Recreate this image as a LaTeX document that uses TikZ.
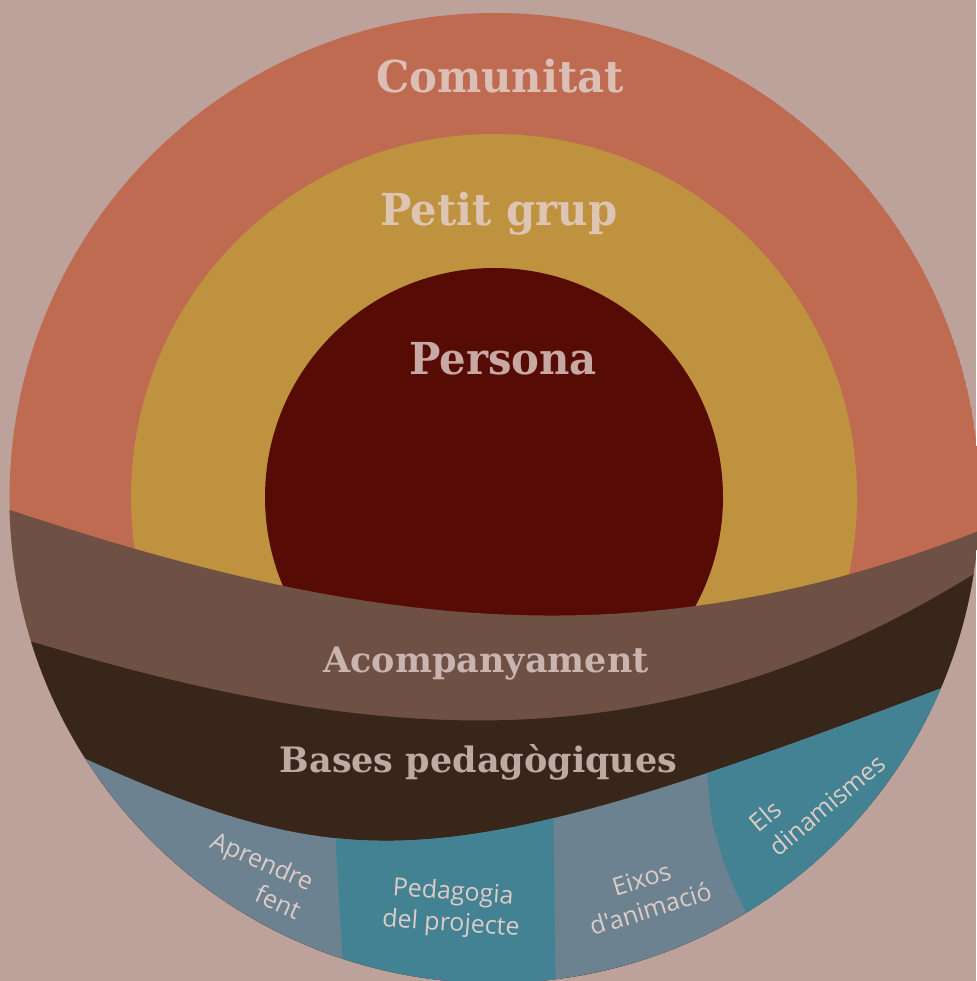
\documentclass[tikz,border=0pt]{standalone}
\usepackage{fontspec}
\setmainfont{DejaVu Serif}
\newfontfamily\titlefont{DejaVu Serif}[FakeStretch=0.95]
\newfontfamily\segfont{Open Sans}[Ligatures=TeXOff]
\definecolor{bgc}{HTML}{BCA29B}
\definecolor{comc}{HTML}{BE6B52}
\definecolor{petc}{HTML}{BF9240}
\definecolor{perc}{HTML}{560C05}
\definecolor{acoc}{HTML}{6F5044}
\definecolor{basc}{HTML}{38261B}
\definecolor{grayc}{HTML}{6C8290}
\definecolor{tealc}{HTML}{428292}
\definecolor{comt}{HTML}{DCBEB4}
\definecolor{pett}{HTML}{DEC4B2}
\definecolor{pert}{HTML}{C8A8A4}
\definecolor{acot}{HTML}{CAB4AF}
\definecolor{bast}{HTML}{BFA9A3}
\definecolor{smt}{HTML}{DCCBC6}
\tikzset{
  bigtitle/.style={font=\titlefont\fontsize{44}{50}\selectfont\bfseries, inner sep=0pt, anchor=base},
  bandtitle/.style={font=\fontsize{35}{40}\selectfont\bfseries, inner sep=0pt, anchor=base},
  seglabel/.style={font=\segfont\fontsize{25}{31}\selectfont, text=smt, inner sep=0pt}
}
\begin{document}
\begin{tikzpicture}[x=1pt,y=-1pt]
\useasboundingbox (0,0) rectangle (976,981);
\fill[bgc] (0,0) rectangle (976,981);
\begin{scope}
  \clip (494.5,498) circle[radius=485pt];
  \fill[comc] (494.5,498) circle[radius=485pt];
  \fill[petc] (494,497) circle[radius=363pt];
  \fill[perc] (494,497) circle[radius=229pt];
  % Acompanyament band
  \fill[acoc] (-30,500) -- (10,510) .. controls (354,624) and (632,666) .. (976,532)
     -- (1010,515) -- (1010,1010) -- (-30,1010) -- cycle;
  % Bases pedagogiques band
  \fill[basc] (-30,628) -- (33,642) .. controls (358,739.5) and (649,775.5) .. (974,574)
     -- (1010,550) -- (1010,1010) -- (-30,1010) -- cycle;
  % bottom segments
  \begin{scope}
    \clip (40,738) -- (88,760) .. controls (353.5,879.5) and (449.5,875.2) .. (942,688)
       -- (1010,662) -- (1010,1010) -- (-30,1010) -- cycle;
    \fill[grayc] (-30,600) rectangle (1010,1010);
    \fill[tealc] (333,780) .. controls (336,860) and (340,920) .. (346,1010)
       -- (556,1010) -- (553,780) -- cycle;
    \fill[tealc] (705,740) .. controls (708,790) and (712,835) .. (717,837)
       .. controls (724,870) and (735,890) .. (760,940) -- (1010,1010) -- (1010,600) -- cycle;
  \end{scope}
\end{scope}
\node[bigtitle, text=comt] (com) at (500,93) {Comunitat};
\node[bigtitle, text=pett] (pet) at (499,226) {Petit grup};
\node[bigtitle, text=pert] (per) at (503,374) {Persona};
\node[bandtitle, text=acot] (aco) at (486,672) {Acompanyament};
\node[bandtitle, text=bast] (bas) at (478.5,772) {Bases pedagògiques};
\node[seglabel, rotate=-24, align=right] (apr) at (256,875) {Aprendre\\fent};
\node[seglabel, rotate=-4, align=center] (ped) at (452,909) {Pedagogia\\del projecte};
\node[seglabel, rotate=17, align=center] (eix) at (646,894) {Eixos\\d'animació};
\node[seglabel, rotate=40, align=left] (els) at (817,793) {Els\\dinamismes};
\end{tikzpicture}
\end{document}
